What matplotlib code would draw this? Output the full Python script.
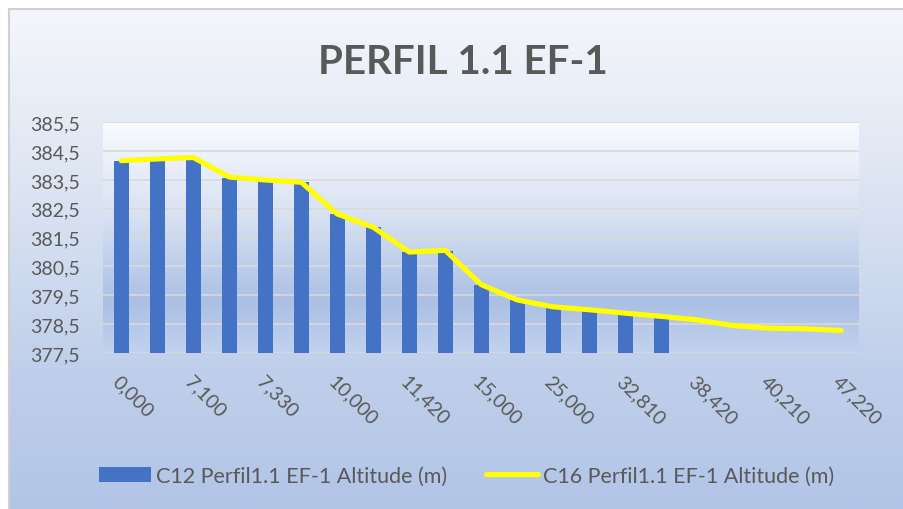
import matplotlib

matplotlib.use("Agg")

import matplotlib.pyplot as plt  # noqa: E402
import numpy as np  # noqa: E402
from matplotlib.colors import LinearSegmentedColormap  # noqa: E402
from matplotlib.patches import Rectangle  # noqa: E402

plt.rcParams["font.family"] = ["Lato", "DejaVu Sans"]

# distance labels shown on the axis (every second station)
tick_labels = ["0,000", "7,100", "7,330", "10,000", "11,420", "15,000",
               "25,000", "32,810", "38,420", "40,210", "47,220"]

# C12 bars (first 16 stations)
c12_altitude = [384.17, 384.17, 384.23, 383.57, 383.44, 383.42, 382.32, 381.86,
                380.99, 381.05, 379.87, 379.34, 379.09, 378.97, 378.82, 378.71]

# C16 line (all 21 stations)
c16_altitude = [384.17, 384.23, 384.28, 383.60, 383.50, 383.42, 382.32, 381.86,
                381.00, 381.06, 379.87, 379.34, 379.10, 379.00, 378.88, 378.77,
                378.65, 378.45, 378.36, 378.34, 378.28]

TEXT = "#595959"
BAR = "#4472C4"
GRID = "#D9D9D9"

W, H = 904, 510
fig = plt.figure(figsize=(W / 100, H / 100), dpi=100)
fig.patch.set_facecolor("white")

# chart area background with gradient and thin border (right/bottom run off the image)
bg = fig.add_axes([9 / W, 0, 1 - 9 / W, 1 - 10 / H], zorder=-10)
bg.set_axis_off()
bg_cmap = LinearSegmentedColormap.from_list(
    "bg", [(0.0, "#F4F6FB"), (0.3, "#E1E8F4"), (0.7, "#C1D0EB"), (1.0, "#B2C5E7")])
bg.imshow(np.linspace(0, 1, 256).reshape(-1, 1), cmap=bg_cmap, aspect="auto",
          extent=[0, 1, 0, 1], transform=bg.transAxes)
bg.add_patch(Rectangle((0, -0.05), 1.05, 1.05, transform=bg.transAxes, fill=False,
                       edgecolor="#D0D0D0", lw=1.5, clip_on=False))
bg.set_xlim(0, 1)
bg.set_ylim(1, 0)

ax = fig.add_axes([103.3 / W, 1 - 354 / H, 756 / W, (354 - 123.3) / H])
ax.patch.set_alpha(0)
plot_cmap = LinearSegmentedColormap.from_list(
    "plot", [(0.0, "#F8FAFE"), (0.4, "#D9E2F3"), (0.78, "#ABC0E5"), (1.0, "#C2D2ED")])
ax.imshow(np.linspace(0, 1, 256).reshape(-1, 1), cmap=plot_cmap, aspect="auto",
          extent=[0, 1, 0, 1], transform=ax.transAxes, zorder=0)

n = len(c16_altitude)
x_bars = np.arange(len(c12_altitude))
x_line = np.arange(n)

bars = ax.bar(x_bars, np.array(c12_altitude) - 377.5, bottom=377.5, width=0.41,
              color=BAR, zorder=3)
line, = ax.plot(x_line, c16_altitude, color="#FFFF00", lw=3.7, solid_capstyle="round",
                solid_joinstyle="round", zorder=4)

ax.set_xlim(-0.5, n - 0.5)
ax.set_ylim(377.5, 385.5)
yticks = np.arange(377.5, 385.6, 1.0)
ax.set_yticks(yticks)
ax.set_yticklabels([f"{v:.1f}".replace(".", ",") for v in yticks])
for y in yticks:
    ax.axhline(y, color=GRID, lw=1.2, zorder=1)

ax.set_xticks(range(0, n, 2))
ax.set_xticklabels(tick_labels, rotation=-45, ha="left", va="top",
                   rotation_mode="anchor")
ax.tick_params(axis="x", length=0, pad=14, labelsize=14, labelcolor=TEXT)
ax.tick_params(axis="y", length=0, pad=17, labelsize=14, labelcolor=TEXT)
for s in ax.spines.values():
    s.set_visible(False)

fig.text(463 / W, 1 - 62 / H, "PERFIL 1.1 EF-1", ha="center", va="center",
         fontsize=29, fontweight="bold", color=TEXT)

fig.legend([bars, line],
           ["C12 Perfil1.1 EF-1 Altitude (m)", "C16 Perfil1.1 EF-1 Altitude (m)"],
           loc="center", bbox_to_anchor=(467 / W, 1 - 477 / H), ncol=2,
           frameon=False, fontsize=15.5, handlelength=2.4, handleheight=0.7,
           handletextpad=0.25, columnspacing=1.8, labelcolor=TEXT)

fig.savefig("out.png", dpi=100)
